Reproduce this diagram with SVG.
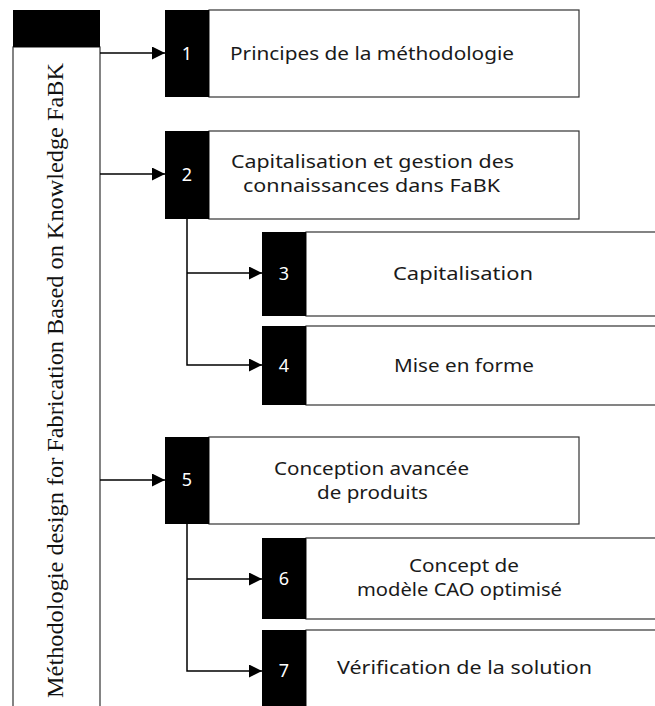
<svg xmlns="http://www.w3.org/2000/svg" width="655" height="706" viewBox="0 0 655 706">
<defs>
<marker id="arr" markerWidth="13" markerHeight="13" refX="13" refY="6.5" orient="auto" markerUnits="userSpaceOnUse">
<path d="M0,0 L13,6.5 L0,13 Z" fill="#000"/>
</marker>
<style>
.box{fill:#fff;stroke:#333;stroke-width:1.2}
.tab{fill:#000}
.num{font-family:"Noto Sans","Open Sans",sans-serif;font-size:18px;fill:#fff;text-anchor:middle}
.lbl{font-family:"Noto Sans","Open Sans",sans-serif;font-size:18px;fill:#1a1a1a}
.side{font-family:"Liberation Serif","DejaVu Serif",serif;font-size:23px;fill:#111}
.con{fill:none;stroke:#000;stroke-width:1.5}
</style>
</defs>
<rect width="655" height="706" fill="#fff"/>

<g id="sidebar">
<rect class="box" x="13" y="47" width="87" height="670"/>
<rect class="tab" x="13" y="10" width="87" height="37"/>
<text class="side" transform="translate(63,698) rotate(-90)" x="0" y="0" textLength="635" lengthAdjust="spacingAndGlyphs">Méthodologie design for Fabrication Based on Knowledge FaBK</text>
</g>

<g id="connectors">
<line class="con" x1="100" y1="53" x2="165" y2="53" marker-end="url(#arr)"/>
<line class="con" x1="100" y1="174" x2="165" y2="174" marker-end="url(#arr)"/>
<line class="con" x1="100" y1="480" x2="165" y2="480" marker-end="url(#arr)"/>
<polyline class="con" points="187,219 187,365 262,365" marker-end="url(#arr)"/>
<line class="con" x1="187" y1="273" x2="262" y2="273" marker-end="url(#arr)"/>
<polyline class="con" points="187,524 187,671 262,671" marker-end="url(#arr)"/>
<line class="con" x1="187" y1="579" x2="262" y2="579" marker-end="url(#arr)"/>
</g>

<g id="node1">
<rect class="box" x="209" y="10" width="370" height="87"/>
<rect class="tab" x="165" y="10" width="44" height="87"/>
<text class="num" x="187" y="60">1</text>
<text class="lbl" x="230" y="60" textLength="284" lengthAdjust="spacingAndGlyphs">Principes de la méthodologie</text>
</g>

<g id="node2">
<rect class="box" x="209" y="131" width="370" height="88"/>
<rect class="tab" x="165" y="131" width="44" height="88"/>
<text class="num" x="187" y="181">2</text>
<text class="lbl" x="231" y="168" textLength="283" lengthAdjust="spacingAndGlyphs">Capitalisation et gestion des</text>
<text class="lbl" x="243" y="192" textLength="257" lengthAdjust="spacingAndGlyphs">connaissances dans FaBK</text>
</g>

<g id="node3">
<rect class="box" x="306" y="232" width="360" height="84"/>
<rect class="tab" x="262" y="232" width="44" height="84"/>
<text class="num" x="284" y="280">3</text>
<text class="lbl" x="393" y="280" textLength="140" lengthAdjust="spacingAndGlyphs">Capitalisation</text>
</g>

<g id="node4">
<rect class="box" x="306" y="326" width="360" height="79"/>
<rect class="tab" x="262" y="326" width="44" height="79"/>
<text class="num" x="284" y="372">4</text>
<text class="lbl" x="394" y="372" textLength="140" lengthAdjust="spacingAndGlyphs">Mise en forme</text>
</g>

<g id="node5">
<rect class="box" x="209" y="437" width="370" height="87"/>
<rect class="tab" x="165" y="437" width="44" height="87"/>
<text class="num" x="187" y="486">5</text>
<text class="lbl" x="274" y="475" textLength="195" lengthAdjust="spacingAndGlyphs">Conception avancée</text>
<text class="lbl" x="317" y="499" textLength="111" lengthAdjust="spacingAndGlyphs">de produits</text>
</g>

<g id="node6">
<rect class="box" x="306" y="538" width="360" height="81"/>
<rect class="tab" x="262" y="538" width="44" height="81"/>
<text class="num" x="284" y="585">6</text>
<text class="lbl" x="409" y="572" textLength="110" lengthAdjust="spacingAndGlyphs">Concept de</text>
<text class="lbl" x="357" y="596" textLength="205" lengthAdjust="spacingAndGlyphs">modèle CAO optimisé</text>
</g>

<g id="node7">
<rect class="box" x="306" y="630" width="360" height="90"/>
<rect class="tab" x="262" y="630" width="44" height="90"/>
<text class="num" x="284" y="677">7</text>
<text class="lbl" x="337" y="674" textLength="255" lengthAdjust="spacingAndGlyphs">Vérification de la solution</text>
</g>
</svg>
